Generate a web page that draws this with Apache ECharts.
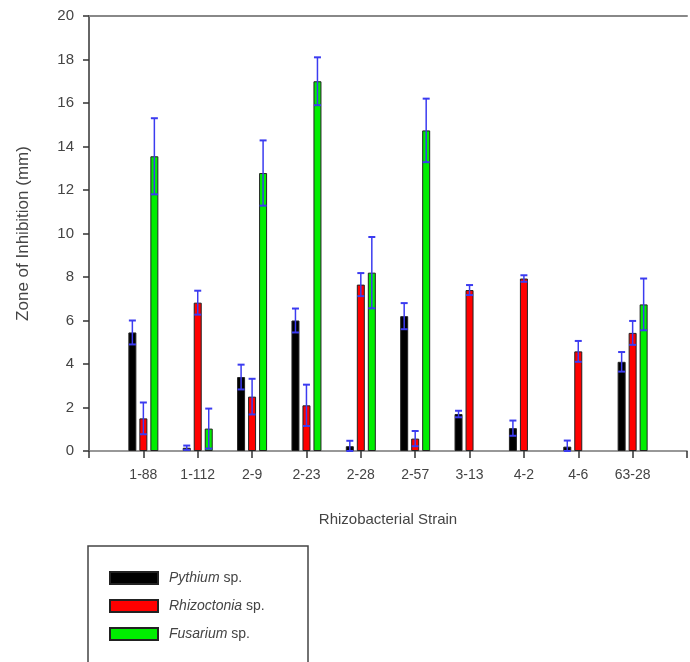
<!DOCTYPE html>
<html>
<head>
<meta charset="utf-8">
<script src="https://cdn.jsdelivr.net/npm/echarts@6/dist/echarts.min.js"></script>
<style>
  html, body { margin: 0; padding: 0; background: #fff; }
  #chart { width: 690px; height: 662px; }
</style>
</head>
<body>
<div id="chart"></div>
<script>
  // strains (blank slots at both ends keep the gap before the first and after the last cluster)
  const strains = ['', '1-88', '1-112', '2-9', '2-23', '2-28', '2-57', '3-13', '4-2', '4-6', '63-28', '']

  // zone of inhibition (mm) and error, one value per strain
  const pythium = [5.45, 0.15, 3.4, 6.0, 0.22, 6.2, 1.7, 1.05, 0.2, 4.1]
  const pythiumErr = [0.55, 0.1, 0.57, 0.55, 0.25, 0.6, 0.15, 0.35, 0.28, 0.45]
  const rhizoctonia = [1.5, 6.82, 2.5, 2.1, 7.65, 0.57, 7.4, 7.93, 4.58, 5.43]
  const rhizoctoniaErr = [0.73, 0.55, 0.82, 0.95, 0.53, 0.35, 0.23, 0.15, 0.48, 0.55]
  const fusarium = [13.55, 1.03, 12.78, 17.0, 8.2, 14.74, null, null, null, 6.74]
  const fusariumErr = [1.75, 0.92, 1.5, 1.1, 1.64, 1.46, null, null, null, 1.19]

  const yTicks = [0, 2, 4, 6, 8, 10, 12, 14, 16, 18, 20]

  const font = "'Liberation Sans', Arial, sans-serif"
  const textColor = '#444'
  const barWidth = 8
  const barStep = 11   // bar width + gap

  const pad = arr => [null, ...arr, null]

  const chart = echarts.init(document.getElementById('chart'))

  // error bars drawn with a custom series, shifted onto their bar
  const errorSeries = (vals, errs, offset, name) => ({
    type: 'custom',
    name: name + ' err',
    z: 5,
    silent: true,
    data: vals.map((v, i) => v == null ? null : [i + 1, v, errs[i]]).filter(d => d),
    renderItem: (params, api) => {
      const x = api.value(0), v = api.value(1), e = api.value(2)
      const top = api.coord([x, v + e])
      const bot = api.coord([x, Math.max(v - e, 0)])
      const cx = top[0] + offset
      const style = { stroke: '#3b3bf0', lineWidth: 1.5 }
      return {
        type: 'group',
        children: [
          { type: 'line', shape: { x1: cx, y1: top[1], x2: cx, y2: bot[1] }, style },
          { type: 'line', shape: { x1: cx - 3.5, y1: top[1], x2: cx + 3.5, y2: top[1] }, style: { stroke: '#3b3bf0', lineWidth: 2 } },
          { type: 'line', shape: { x1: cx - 3.5, y1: bot[1], x2: cx + 3.5, y2: bot[1] }, style: { stroke: '#3b3bf0', lineWidth: 2 } }
        ]
      }
    }
  })

  const barSeries = (name, vals, color) => ({
    name: name,
    type: 'bar',
    barWidth: barWidth,
    barGap: '37.5%',
    data: pad(vals),
    itemStyle: { color: color, borderColor: '#222', borderWidth: 1 }
  })

  const option = {
    backgroundColor: '#fff',
    animation: false,
    textStyle: { fontFamily: font },
    grid: { left: 89, right: -4, top: 16, bottom: 211 },
    legend: {
      orient: 'vertical',
      left: 109,
      top: 571,
      padding: 0,
      itemWidth: 48,
      itemHeight: 12,
      itemGap: 14,
      icon: 'rect',
      data: ['Pythium', 'Rhizoctonia', 'Fusarium'],
      formatter: name => '{i|' + name + '} sp.',
      textStyle: {
        color: textColor,
        fontSize: 14,
        fontFamily: font,
        padding: [0, 0, 0, 6],
        rich: { i: { fontStyle: 'italic', fontSize: 14, color: textColor, fontFamily: font } }
      }
    },
    graphic: [
      {
        type: 'rect',
        shape: { x: 88, y: 546, width: 220, height: 140 },
        style: { fill: 'none', stroke: '#444', lineWidth: 1.5 },
        silent: true
      }
    ],
    xAxis: [
      {
        type: 'category',
        data: strains,
        boundaryGap: false,
        name: 'Rhizobacterial Strain',
        nameLocation: 'middle',
        nameGap: 61,
        nameTextStyle: { color: textColor, fontSize: 15, fontFamily: font },
        axisLine: { show: true, lineStyle: { color: '#777', width: 1.5 } },
        axisTick: { show: true, length: 7, lineStyle: { color: '#333', width: 1.5 } },
        axisLabel: { color: textColor, fontSize: 14, margin: 17, interval: 0 },
        splitLine: { show: false }
      },
      {
        type: 'category',
        position: 'top',
        data: strains,
        boundaryGap: false,
        axisLine: { show: true, lineStyle: { color: '#888', width: 2 } },
        axisTick: { show: false },
        axisLabel: { show: false },
        splitLine: { show: false }
      }
    ],
    yAxis: {
      type: 'value',
      min: yTicks[0],
      max: yTicks[yTicks.length - 1],
      interval: 2,
      name: 'Zone of Inhibition (mm)',
      nameLocation: 'middle',
      nameGap: 57,
      nameRotate: 90,
      nameTextStyle: { color: textColor, fontSize: 17, fontFamily: font },
      axisLine: { show: true, lineStyle: { color: '#333', width: 1.5 } },
      axisTick: { show: true, inside: false, length: 6, lineStyle: { color: '#333', width: 1.5 } },
      axisLabel: { color: textColor, fontSize: 15, margin: 15 },
      splitLine: { show: false }
    },
    series: [
      barSeries('Pythium', pythium, '#000000'),
      barSeries('Rhizoctonia', rhizoctonia, '#ff0000'),
      barSeries('Fusarium', fusarium, '#00ee00'),
      errorSeries(pythium, pythiumErr, -barStep, 'Pythium'),
      errorSeries(rhizoctonia, rhizoctoniaErr, 0, 'Rhizoctonia'),
      errorSeries(fusarium, fusariumErr, barStep, 'Fusarium')
    ]
  }

  chart.setOption(option)
</script>
</body>
</html>
